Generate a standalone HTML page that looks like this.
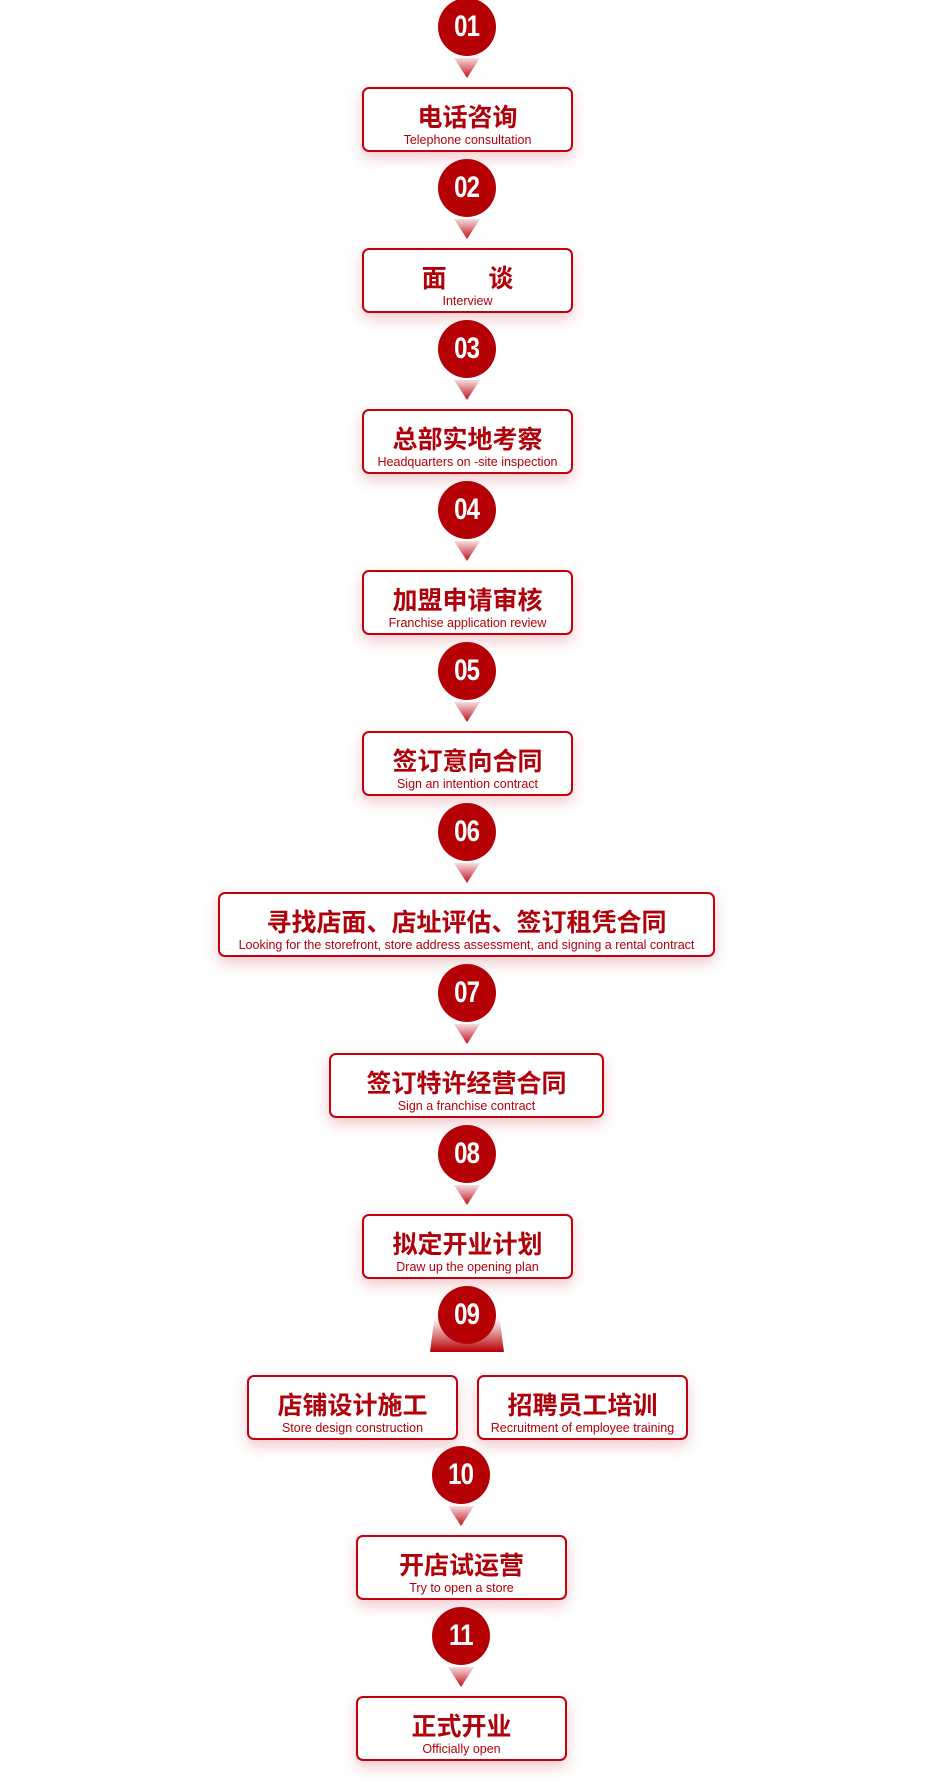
<!DOCTYPE html>
<html><head><meta charset="utf-8"><style>
body{margin:0;width:940px;height:1790px;background:#fff;position:relative;overflow:hidden;font-family:"Liberation Sans","Noto Sans CJK SC",sans-serif}
.c{position:absolute;width:58px;height:58px;border-radius:50%;background:#b50006;color:#fff;text-align:center}
.c span{display:inline-block;font:bold 30px/58px "Liberation Sans",sans-serif;letter-spacing:-1px;transform:scaleX(0.8)}
.t{position:absolute;width:26px;height:20px;background:linear-gradient(to bottom,rgba(200,20,30,0.15),#c0101a);clip-path:polygon(0 0,100% 0,50% 100%)}
.b{position:absolute;height:61px;border:2px solid #c3000b;border-radius:7px;background:#fff;box-shadow:0 6px 14px rgba(200,40,50,.25);text-align:center;color:#b0000a}
.b .z{font:bold 25px/1 "Liberation Sans","Noto Sans CJK SC",sans-serif;margin-top:17px;white-space:nowrap}
.b .e{font:12.5px/1 "Liberation Sans",sans-serif;margin-top:3px;white-space:nowrap}
</style></head><body>
<div class="c" style="left:438px;top:-2px"><span>01</span></div><div class="t" style="left:454px;top:58px"></div>
<div class="b" style="left:362px;top:87px;width:207px"><div class="z">电话咨询</div><div class="e">Telephone consultation</div></div>
<div class="c" style="left:438px;top:159px"><span>02</span></div><div class="t" style="left:454px;top:219px"></div>
<div class="b" style="left:362px;top:248px;width:207px"><div class="z">面&nbsp;&nbsp;&nbsp;&nbsp;&nbsp;&nbsp;谈</div><div class="e">Interview</div></div>
<div class="c" style="left:438px;top:320px"><span>03</span></div><div class="t" style="left:454px;top:380px"></div>
<div class="b" style="left:362px;top:409px;width:207px"><div class="z">总部实地考察</div><div class="e">Headquarters on -site inspection</div></div>
<div class="c" style="left:438px;top:481px"><span>04</span></div><div class="t" style="left:454px;top:541px"></div>
<div class="b" style="left:362px;top:570px;width:207px"><div class="z">加盟申请审核</div><div class="e">Franchise application review</div></div>
<div class="c" style="left:438px;top:642px"><span>05</span></div><div class="t" style="left:454px;top:702px"></div>
<div class="b" style="left:362px;top:731px;width:207px"><div class="z">签订意向合同</div><div class="e">Sign an intention contract</div></div>
<div class="c" style="left:438px;top:803px"><span>06</span></div><div class="t" style="left:454px;top:863px"></div>
<div class="b" style="left:218px;top:892px;width:493px"><div class="z">寻找店面、店址评估、签订租凭合同</div><div class="e">Looking for the storefront, store address assessment, and signing a rental contract</div></div>
<div class="c" style="left:438px;top:964px"><span>07</span></div><div class="t" style="left:454px;top:1024px"></div>
<div class="b" style="left:329px;top:1053px;width:271px"><div class="z">签订特许经营合同</div><div class="e">Sign a franchise contract</div></div>
<div class="c" style="left:438px;top:1125px"><span>08</span></div><div class="t" style="left:454px;top:1185px"></div>
<div class="b" style="left:362px;top:1214px;width:207px"><div class="z">拟定开业计划</div><div class="e">Draw up the opening plan</div></div>
<div style="position:absolute;left:430px;top:1318px;width:74px;height:34px;background:linear-gradient(to bottom,rgba(255,255,255,0),#b50006);clip-path:polygon(0 100%,6% 0,94% 0,100% 100%)"></div>
<div class="c" style="left:438px;top:1286px"><span>09</span></div>
<div class="b" style="left:247px;top:1375px;width:207px"><div class="z">店铺设计施工</div><div class="e">Store design construction</div></div>
<div class="b" style="left:477px;top:1375px;width:207px"><div class="z">招聘员工培训</div><div class="e">Recruitment of employee training</div></div>
<div class="c" style="left:432px;top:1446px"><span>10</span></div><div class="t" style="left:448px;top:1506px"></div>
<div class="b" style="left:356px;top:1535px;width:207px"><div class="z">开店试运营</div><div class="e">Try to open a store</div></div>
<div class="c" style="left:432px;top:1607px"><span>11</span></div><div class="t" style="left:448px;top:1667px"></div>
<div class="b" style="left:356px;top:1696px;width:207px"><div class="z">正式开业</div><div class="e">Officially open</div></div>
</body></html>
